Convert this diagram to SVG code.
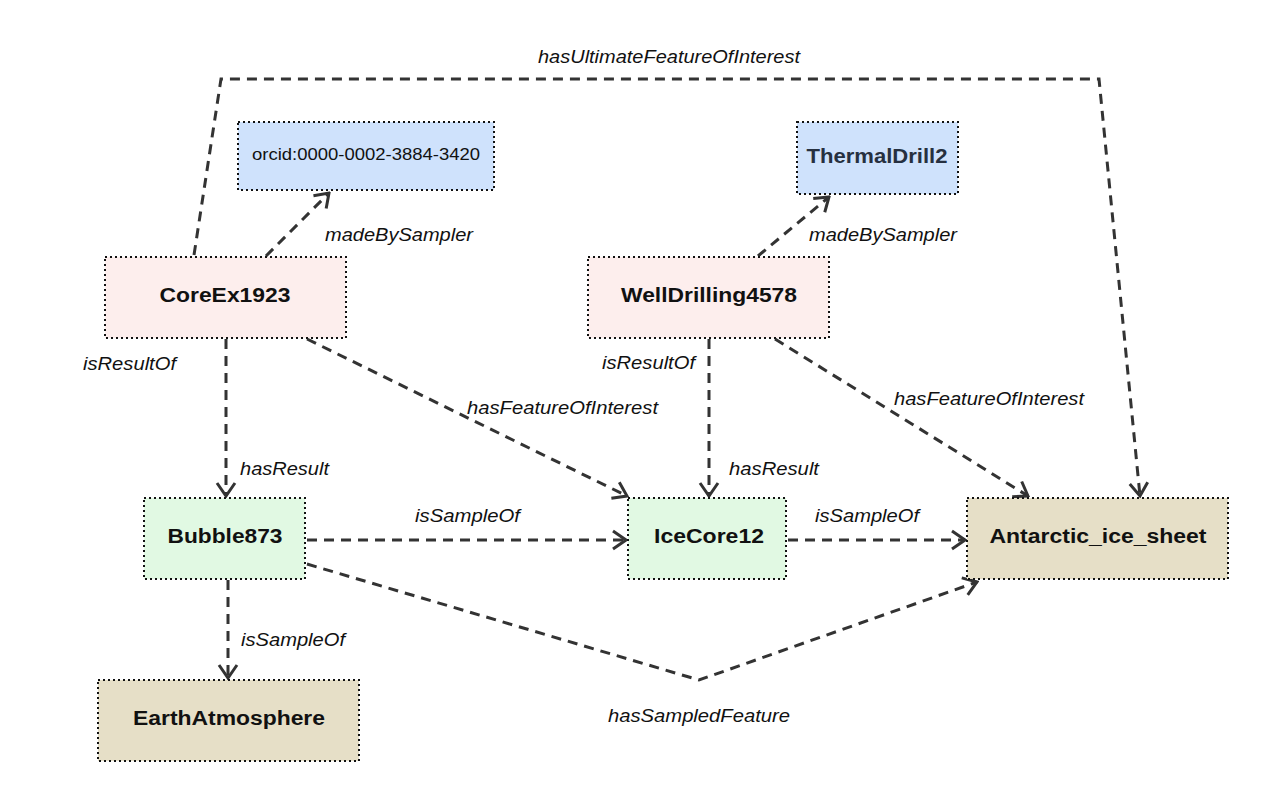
<svg xmlns="http://www.w3.org/2000/svg" width="1268" height="801" viewBox="0 0 1268 801">
<defs>
<style>
.box{stroke:#111;stroke-width:2;stroke-dasharray:2 3}
.obs{fill:#fdeeed}
.agent{fill:#cfe2fc}
.sample{fill:#e1f9e3}
.feat{fill:#e6dfc7}
.nl{font-family:"Liberation Sans",Arial,sans-serif;font-weight:bold;font-size:20px;fill:#111;text-anchor:middle}
.el{font-family:"Liberation Sans",Arial,sans-serif;font-style:italic;font-size:18px;fill:#111}
.edge{fill:none;stroke:#333;stroke-width:3;stroke-dasharray:10 7;marker-end:url(#arr)}
</style>
<marker id="arr" viewBox="0 0 18 22" refX="16" refY="11" markerWidth="18" markerHeight="22" markerUnits="userSpaceOnUse" orient="auto">
<path d="M3,2 L16,11 L3,20" fill="none" stroke="#333" stroke-width="3" stroke-dasharray="none"/>
</marker>
</defs>
<rect width="1268" height="801" fill="#fff"/>

<g id="connectors">
<path class="edge" d="M194,255 L221,79 L1099,79 L1140,496"/>
<path class="edge" d="M266,256 L329,193"/>
<path class="edge" d="M758,256 L829,197"/>
<path class="edge" d="M226,339 L226,496"/>
<path class="edge" d="M307,339 L627,496"/>
<path class="edge" d="M709,339 L709,496"/>
<path class="edge" d="M775,339 L1028,496"/>
<path class="edge" d="M307,540 L626,540"/>
<path class="edge" d="M788,540 L965,540"/>
<path class="edge" d="M228,580 L228,678"/>
<path class="edge" d="M307,564 L699,680 L977,582"/>
</g>

<g id="edge-labels">
<text class="el" x="538" y="63" textLength="262" lengthAdjust="spacingAndGlyphs">hasUltimateFeatureOfInterest</text>
<text class="el" x="325" y="241" textLength="148" lengthAdjust="spacingAndGlyphs">madeBySampler</text>
<text class="el" x="809" y="241" textLength="148" lengthAdjust="spacingAndGlyphs">madeBySampler</text>
<text class="el" x="83" y="370" textLength="93" lengthAdjust="spacingAndGlyphs">isResultOf</text>
<text class="el" x="240" y="475" textLength="89" lengthAdjust="spacingAndGlyphs">hasResult</text>
<text class="el" x="467" y="414" textLength="191" lengthAdjust="spacingAndGlyphs">hasFeatureOfInterest</text>
<text class="el" x="602" y="369" textLength="93" lengthAdjust="spacingAndGlyphs">isResultOf</text>
<text class="el" x="894" y="405" textLength="190" lengthAdjust="spacingAndGlyphs">hasFeatureOfInterest</text>
<text class="el" x="729" y="475" textLength="90" lengthAdjust="spacingAndGlyphs">hasResult</text>
<text class="el" x="415" y="522" textLength="105" lengthAdjust="spacingAndGlyphs">isSampleOf</text>
<text class="el" x="815" y="522" textLength="104" lengthAdjust="spacingAndGlyphs">isSampleOf</text>
<text class="el" x="241" y="646" textLength="104" lengthAdjust="spacingAndGlyphs">isSampleOf</text>
<text class="el" x="608" y="722" textLength="182" lengthAdjust="spacingAndGlyphs">hasSampledFeature</text>
</g>

<g id="orcid">
<rect class="box agent" x="238" y="122" width="256" height="68"/>
<text x="366" y="160" font-family="Liberation Sans, Arial, sans-serif" font-size="16" fill="#111" text-anchor="middle" textLength="228" lengthAdjust="spacingAndGlyphs">orcid:0000-0002-3884-3420</text>
</g>
<g id="ThermalDrill2">
<rect class="box agent" x="797" y="122" width="161" height="72"/>
<text class="nl" x="877" y="163" style="fill:#263040" textLength="141" lengthAdjust="spacingAndGlyphs">ThermalDrill2</text>
</g>
<g id="CoreEx1923">
<rect class="box obs" x="105" y="257" width="241" height="81"/>
<text class="nl" x="225" y="302" textLength="131" lengthAdjust="spacingAndGlyphs">CoreEx1923</text>
</g>
<g id="WellDrilling4578">
<rect class="box obs" x="588" y="257" width="241" height="81"/>
<text class="nl" x="709" y="302" textLength="176" lengthAdjust="spacingAndGlyphs">WellDrilling4578</text>
</g>
<g id="Bubble873">
<rect class="box sample" x="144" y="498" width="161" height="81"/>
<text class="nl" x="225" y="543" textLength="115" lengthAdjust="spacingAndGlyphs">Bubble873</text>
</g>
<g id="IceCore12">
<rect class="box sample" x="628" y="498" width="158" height="81"/>
<text class="nl" x="709" y="543" textLength="110" lengthAdjust="spacingAndGlyphs">IceCore12</text>
</g>
<g id="Antarctic_ice_sheet">
<rect class="box feat" x="967" y="498" width="261" height="81"/>
<text class="nl" x="1098" y="543" textLength="217" lengthAdjust="spacingAndGlyphs">Antarctic_ice_sheet</text>
</g>
<g id="EarthAtmosphere">
<rect class="box feat" x="98" y="680" width="261" height="81"/>
<text class="nl" x="229" y="725" textLength="192" lengthAdjust="spacingAndGlyphs">EarthAtmosphere</text>
</g>
</svg>
